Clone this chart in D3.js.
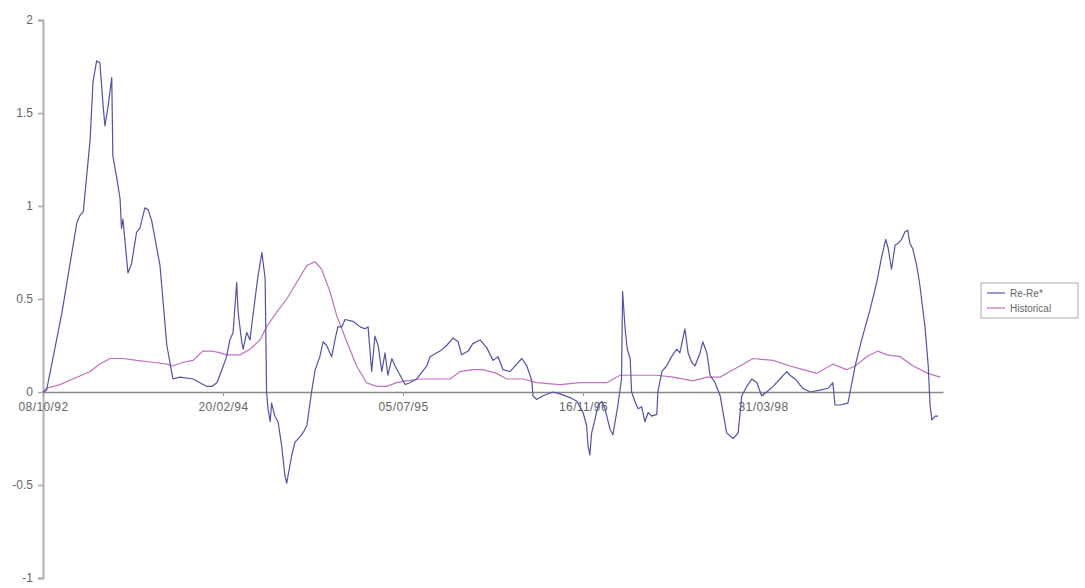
<!DOCTYPE html>
<html>
<head>
<meta charset="utf-8">
<script src="https://cdn.jsdelivr.net/npm/d3@7"></script>
<style>
  html, body { margin: 0; padding: 0; background: #fff; }
  svg { display: block; }
  text { font-family: "Liberation Sans", Arial, sans-serif; }
</style>
</head>
<body>
<svg id="chart" width="1085" height="588"></svg>
<script>
// ---- Data (day offset from 08/10/92, value) ----
const reDays = [0,10,52,94,103,112,131,139,149,158,167,172,181,191,194,205,214,218,222,236,246,260,269,283,292,302,325,344,361,381,417,436,455,469,483,497,510,519,528,538,542,552,556,566,575,583,597,608,617,621,625,631,635,644,653,663,672,677,691,700,714,722,733,746,756,769,778,788,797,802,811,819,830,839,861,881,894,903,913,922,931,941,950,958,969,978,992,1006,1019,1038,1066,1075,1103,1121,1139,1153,1163,1181,1194,1214,1232,1250,1264,1278,1297,1316,1330,1344,1358,1361,1371,1389,1417,1436,1464,1483,1500,1510,1514,1519,1524,1533,1542,1552,1561,1575,1583,1597,1607,1610,1617,1623,1631,1635,1644,1653,1663,1672,1681,1691,1705,1708,1719,1732,1746,1760,1769,1783,1792,1802,1811,1825,1833,1844,1853,1867,1881,1889,1899,1917,1931,1941,1955,1969,1983,1996,2010,2028,2047,2066,2075,2089,2111,2131,2158,2181,2194,2200,2214,2236,2242,2256,2274,2297,2316,2330,2341,2348,2357,2367,2376,2385,2394,2402,2408,2416,2427,2436,2450,2459,2464,2469,2478,2486];
const reVals = [0,0.01,0.42,0.91,0.95,0.97,1.36,1.67,1.78,1.77,1.54,1.43,1.54,1.69,1.27,1.15,1.04,0.88,0.93,0.64,0.69,0.86,0.88,0.99,0.98,0.92,0.68,0.25,0.07,0.08,0.07,0.05,0.03,0.03,0.05,0.12,0.19,0.28,0.32,0.59,0.43,0.27,0.23,0.32,0.28,0.41,0.62,0.75,0.61,0,-0.09,-0.16,-0.06,-0.13,-0.16,-0.29,-0.45,-0.49,-0.34,-0.27,-0.24,-0.22,-0.18,0,0.12,0.19,0.27,0.25,0.21,0.19,0.28,0.35,0.35,0.39,0.38,0.35,0.34,0.35,0.11,0.30,0.25,0.11,0.21,0.09,0.18,0.14,0.09,0.04,0.05,0.07,0.14,0.19,0.22,0.25,0.29,0.27,0.20,0.22,0.26,0.28,0.24,0.17,0.19,0.12,0.11,0.15,0.18,0.14,0.06,-0.02,-0.04,-0.02,0,-0.01,-0.03,-0.05,-0.11,-0.18,-0.29,-0.34,-0.22,-0.15,-0.07,-0.05,-0.09,-0.20,-0.23,-0.07,0.07,0.54,0.34,0.23,0.18,0,-0.05,-0.09,-0.08,-0.16,-0.11,-0.13,-0.12,0,0.11,0.14,0.19,0.23,0.21,0.34,0.21,0.16,0.14,0.21,0.27,0.21,0.09,0.05,-0.02,-0.11,-0.22,-0.25,-0.22,-0.02,0.03,0.07,0.05,-0.02,0,0.03,0.07,0.11,0.09,0.07,0.02,0,0.01,0.02,0.05,-0.07,-0.07,-0.06,0,0.14,0.28,0.44,0.59,0.73,0.82,0.77,0.66,0.79,0.80,0.82,0.86,0.87,0.80,0.77,0.68,0.57,0.35,0.14,-0.07,-0.15,-0.13,-0.13];

const histDays = [0,10,47,83,131,158,186,222,260,306,344,361,389,417,444,472,492,510,547,575,603,621,649,677,705,733,756,774,797,816,844,871,899,927,955,982,1010,1047,1131,1158,1194,1222,1260,1288,1333,1371,1436,1492,1566,1603,1658,1705,1750,1806,1844,1881,1908,1936,1972,2028,2075,2111,2149,2194,2232,2256,2288,2319,2344,2381,2417,2458,2492];
const histVals = [0,0.02,0.04,0.07,0.11,0.15,0.18,0.18,0.17,0.16,0.15,0.14,0.16,0.17,0.22,0.22,0.21,0.20,0.20,0.23,0.28,0.35,0.43,0.50,0.59,0.68,0.70,0.66,0.54,0.41,0.27,0.14,0.05,0.03,0.03,0.05,0.06,0.07,0.07,0.11,0.12,0.12,0.10,0.07,0.07,0.05,0.04,0.05,0.05,0.09,0.09,0.09,0.08,0.06,0.08,0.08,0.11,0.14,0.18,0.17,0.14,0.12,0.10,0.15,0.12,0.14,0.19,0.22,0.20,0.19,0.14,0.10,0.08];

const seriesNames = ["Re-Re*", "Historical"];
const xTickDays = [0, 500, 1000, 1500, 2000];
const xTickLabels = ["08/10/92", "20/02/94", "05/07/95", "16/11/96", "31/03/98"];
const yTicks = [-1, -0.5, 0, 0.5, 1, 1.5, 2];

// ---- Layout ----
const svg = d3.select("#chart");
const x = d3.scaleLinear().domain([0, 2500]).range([43, 943]);
const y = d3.scaleLinear().domain([-1, 2]).range([578, 20]);
const colors = ["#5252ac", "#c070c2"];
const textColor = "#666";

// Y axis
const yAxis = d3.axisLeft(y).tickValues(yTicks).tickSize(5).tickPadding(5)
  .tickFormat(d => String(d));
const gy = svg.append("g").attr("transform", "translate(43,0)").call(yAxis);
gy.select(".domain").attr("stroke", "#b0b0b0").attr("stroke-width", 2);
gy.selectAll(".tick line").attr("stroke", "#a8a8a8").attr("stroke-width", 1.5);
gy.selectAll(".tick text").attr("fill", textColor).attr("font-size", 12)
  .attr("font-family", "'Liberation Sans', Arial, sans-serif");

// X axis at y=0
const xAxis = d3.axisBottom(x).tickValues(xTickDays).tickSize(4).tickPadding(6)
  .tickFormat((d, i) => xTickLabels[i]).tickSizeOuter(0);
const gx = svg.append("g").attr("transform", `translate(0,${y(0)})`).call(xAxis);
gx.select(".domain").attr("stroke", "#888").attr("stroke-width", 1.5);
gx.selectAll(".tick line").attr("stroke", "#999");
gx.selectAll(".tick text").attr("fill", textColor).attr("font-size", 12)
  .attr("letter-spacing", "0.4px")
  .attr("font-family", "'Liberation Sans', Arial, sans-serif");

// Lines
const line = d3.line().x(d => x(d[0])).y(d => y(d[1]));
const histData = histDays.map((d, i) => [d, histVals[i]]);
const reData = reDays.map((d, i) => [d, reVals[i]]);

svg.append("path").datum(histData).attr("d", line)
  .attr("fill", "none").attr("stroke", colors[1]).attr("stroke-width", 1.2);
svg.append("path").datum(reData).attr("d", line)
  .attr("fill", "none").attr("stroke", colors[0]).attr("stroke-width", 1.2)
  .attr("stroke-linejoin", "round");

// Legend
const lg = svg.append("g").attr("transform", "translate(981,283)");
lg.append("rect").attr("width", 97).attr("height", 35)
  .attr("fill", "#fff").attr("stroke", "#aaa").attr("stroke-width", 1);
seriesNames.forEach((n, i) => {
  const yy = 10 + i * 15;
  lg.append("line").attr("x1", 6).attr("x2", 24).attr("y1", yy).attr("y2", yy)
    .attr("stroke", colors[i]).attr("stroke-width", 1.2);
  lg.append("text").attr("x", 29).attr("y", yy + 3.5).text(n)
    .attr("font-size", 10).attr("fill", textColor);
});
</script>
</body>
</html>
